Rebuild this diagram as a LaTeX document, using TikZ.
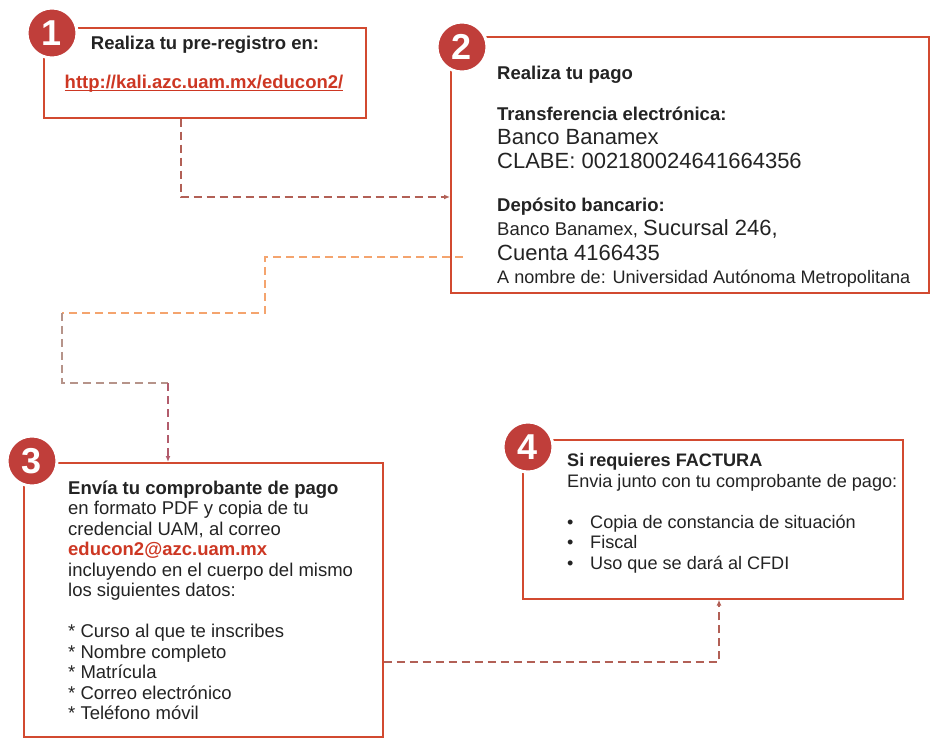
\documentclass[tikz,border=0pt]{standalone}
\usepackage{fontspec}
\setmainfont{Liberation Sans}
\usetikzlibrary{arrows.meta,positioning}
\definecolor{boxred}{RGB}{210,74,48}
\definecolor{dotred}{RGB}{192,62,58}
\definecolor{linkred}{RGB}{205,55,35}
\definecolor{bodygray}{RGB}{35,35,35}
\definecolor{dashbrown}{RGB}{178,96,86}
\definecolor{dashorange}{RGB}{244,164,110}
\definecolor{dashgray}{RGB}{182,148,138}
\definecolor{dashrose}{RGB}{178,92,108}
\newcommand{\linkline}[1]{\setbox0\hbox{#1}\rlap{\rule[-2.5pt]{\wd0}{1.3pt}}\box0}
\tikzset{
  stepbox/.style={draw=boxred,line width=1.7pt,anchor=north west,inner sep=0pt},
  numdot/.style={circle,fill=dotred,draw=white,line width=3pt,minimum size=50pt,inner sep=0pt,
    text=white,font=\fontsize{36}{36}\selectfont\bfseries},
  bodytxt/.style={anchor=base west,inner sep=0pt,text=bodygray,font=\fontsize{18.5}{20.5}\selectfont},
  smalltxt/.style={bodytxt,font=\fontsize{18.1}{20.5}\selectfont},
  bigtxt/.style={bodytxt,font=\fontsize{22}{24}\selectfont},
  flowlink/.style={line width=1.5pt,dash pattern=on 8pt off 5pt},
  flowtip/.style={-{Latex[length=6pt,width=5pt]}}
}

\begin{document}
\begin{tikzpicture}[x=1pt,y=-1pt]
  \useasboundingbox (0,0) rectangle (930,738);
  % the four boxes
  \node[stepbox,minimum width=322pt,minimum height=90pt] (b1) at (43,27) {};
  \node[stepbox,minimum width=478pt,minimum height=256pt] (b2) at (450,36) {};
  \node[stepbox,minimum width=359pt,minimum height=274pt] (b3) at (23,462) {};
  \node[stepbox,minimum width=380pt,minimum height=159pt] (b4) at (522,439) {};
  % connectors
  \coordinate (k12) at (181,197);
  \draw[flowlink,flowtip,draw=dashbrown] (b1.south -| k12) |- (b2.west |- k12);
  \coordinate (s23) at (463,257);
  \coordinate (k23a) at (265,313);
  \coordinate (k23b) at (62,383);
  \coordinate (k23c) at (168,383);
  \draw[flowlink,draw=dashorange] (s23) -| (k23a) -- (k23a -| k23b);
  \draw[flowlink,draw=dashgray] (k23a -| k23b) -- (k23b) -- (k23c);
  \draw[flowlink,flowtip,draw=dashrose] (k23c) -- (b3.north -| k23c);
  \coordinate (k34) at (719,662);
  \draw[flowlink,flowtip,draw=dashbrown] (b3.east |- k34) -| (b4.south -| k34);
  % step numbers
  \node[numdot] (n1) at (52,33) {1};
  \node[numdot] (n2) at (462,47) {2};
  \node[numdot] (n3) at (32,461) {3};
  \node[numdot] (n4) at (528,447) {4};
  % step 1
  \node[bodytxt,anchor=base] (t1a) at (205,49.5) {\textbf{Realiza tu pre-registro en:}};
  \node[bodytxt,anchor=base,text=linkred] (t1b) at (204,88.5) {\linkline{\textbf{http://kali.azc.uam.mx/educon2/}}};
  % step 2
  \node[bodytxt] (t2a) at (497,79.5) {\textbf{Realiza tu pago}};
  \node[bodytxt] (t2b) at (497,120.5) {\textbf{Transferencia electrónica:}};
  \node[bigtxt] (t2c) at (497,145) {Banco Banamex};
  \node[bigtxt] (t2d) at (497,169) {CLABE: 002180024641664356};
  \node[bodytxt] (t2e) at (497,211.5) {\textbf{Depósito bancario:}};
  \node[bodytxt] (t2f) at (497,236) {Banco Banamex, {\fontsize{22}{24}\selectfont Sucursal 246,}};
  \node[bigtxt] (t2g) at (497,261) {Cuenta 4166435};
  \node[smalltxt] (t2h) at (497,283.5) {A nombre de: Universidad Autónoma Metropolitana};
  % step 3 (base anchor sits on the last line)
  \node[bodytxt,align=left] (t3) at (68,719.5) {\textbf{Envía tu comprobante de pago}\\
    en formato PDF y copia de tu\\
    credencial UAM, al correo\\
    {\color{linkred}\textbf{educon2@azc.uam.mx}}\\
    incluyendo en el cuerpo del mismo\\
    los siguientes datos:\\[20.5pt]
    * Curso al que te inscribes\\
    * Nombre completo\\
    * Matrícula\\
    * Correo electrónico\\
    * Teléfono móvil};
  % step 4
  \node[smalltxt,align=left] (t4) at (567,569) {\textbf{Si requieres FACTURA}\\
    Envia junto con tu comprobante de pago:\\[20.5pt]
    \makebox[23pt][l]{\textbullet}Copia de constancia de situación\\
    \makebox[23pt][l]{\textbullet}Fiscal\\
    \makebox[23pt][l]{\textbullet}Uso que se dará al CFDI};
\end{tikzpicture}
\end{document}
